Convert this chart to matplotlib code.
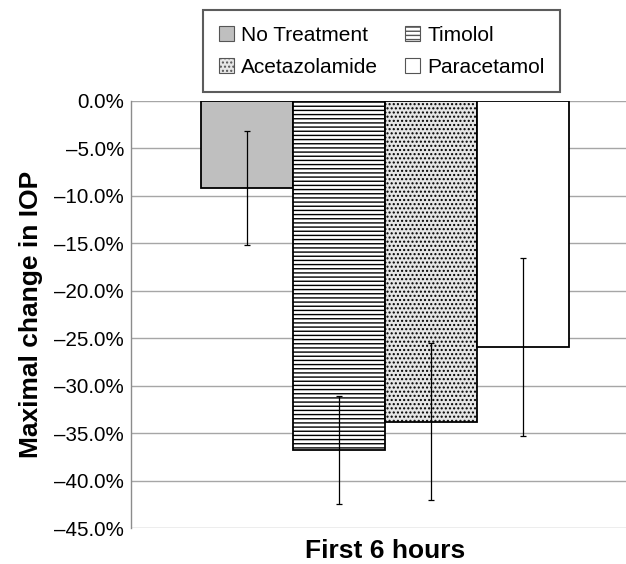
import matplotlib
matplotlib.use("Agg")
import matplotlib.pyplot as plt
from matplotlib.patches import Patch
from matplotlib.ticker import FuncFormatter

plt.rcParams['font.family'] = ['Liberation Sans', 'DejaVu Sans']
plt.rcParams['hatch.linewidth'] = 1.0

groups = ['No Treatment', 'Timolol', 'Acetazolamide', 'Paracetamol']
means = [-9.2, -36.8, -33.8, -25.9]
errors = [6.0, 5.7, 8.3, 9.4]
category = 'First 6 hours'
yticks = [0, -5, -10, -15, -20, -25, -30, -35, -40, -45]

faces = ['#bfbfbf', 'white', '#e6e6e6', 'white']
hatches = [None, '----', '....', None]

fig = plt.figure(figsize=(6.26, 5.64), dpi=100)
ax = fig.add_axes([131/626, 1-528/564, (626-131)/626, (528-101)/564])

w = 1.0
positions = [-1.5, -0.5, 0.5, 1.5]
for x, m, e, fc, h, g in zip(positions, means, errors, faces, hatches, groups):
    ax.bar(x, m, width=w, color=fc, edgecolor='black', linewidth=1.3,
           hatch=h, zorder=2, label=g)
    ax.errorbar(x, m, yerr=e, fmt='none', ecolor='black', elinewidth=0.9,
                capsize=2.5, capthick=0.9, zorder=3)

ax.set_xlim(-2.76, 2.62)
ax.set_ylim(-45, 0)
ax.set_yticks(yticks)
ax.yaxis.set_major_formatter(FuncFormatter(lambda v, p: f"{v:.1f}%".replace('-', '\u2013')))
ax.set_xticks([0])
ax.set_xticklabels([category], fontsize=19, fontweight='bold')
ax.tick_params(axis='x', length=0, pad=8)
ax.tick_params(axis='y', length=0, labelsize=14.8, pad=5)
ax.grid(axis='y', color='#a6a6a6', linewidth=1.0, zorder=0)
ax.set_axisbelow(True)
for s in ['top', 'right', 'bottom']:
    ax.spines[s].set_visible(False)
ax.spines['left'].set_color('#8c8c8c')
ax.spines['left'].set_linewidth(1.0)

ax.set_ylabel('Maximal change in IOP', fontsize=19, fontweight='bold', labelpad=8)

# legend in row-major order (matplotlib fills columns first)
order = [0, 2, 1, 3]
handles = [Patch(facecolor=faces[i], edgecolor='#555555', hatch=hatches[i], linewidth=0.8)
           for i in order]
labels = [groups[i] for i in order]
leg = fig.legend(handles, labels, loc='upper left', bbox_to_anchor=(203/626, 1-10/564),
                 ncol=2, fontsize=15, frameon=True, fancybox=False,
                 edgecolor='#333333', handlelength=0.72, handleheight=0.72,
                 handletextpad=0.35, columnspacing=1.3, borderpad=0.75,
                 labelspacing=0.62, borderaxespad=0)
leg.get_frame().set_linewidth(1.5)

fig.savefig('out.png', dpi=100)
